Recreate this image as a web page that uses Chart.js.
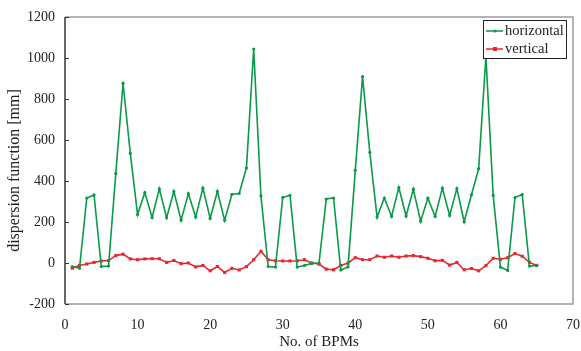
<!DOCTYPE html>
<html>
<head>
<meta charset="utf-8">
<script src="https://cdn.jsdelivr.net/npm/chart.js@4/dist/chart.umd.min.js"></script>
<style>
html,body{margin:0;padding:0;background:#fff;}
#wrap{width:581px;height:351px;position:relative;}
</style>
</head>
<body>
<div id="wrap"><canvas id="c" width="581" height="351"></canvas></div>
<script>
const bpmIndex = [1,2,3,4,5,6,7,8,9,10,11,12,13,14,15,16,17,18,19,20,21,22,23,24,25,26,27,28,29,30,31,32,33,34,35,36,37,38,39,40,41,42,43,44,45,46,47,48,49,50,51,52,53,54,55,56,57,58,59,60,61,62,63,64,65];
const horizontal = [-17,-25,317,332,-17,-15,437,877,535,236,344,222,362,221,349,209,339,224,365,218,349,208,335,339,463,1044,327,-17,-20,319,330,-20,-12,-2,0,312,317,-34,-19,452,909,540,224,317,227,368,229,360,204,316,227,365,232,363,201,332,460,1007,330,-20,-36,319,334,-15,-12];
const vertical = [-25,-12,-5,3,10,12,36,43,20,16,20,21,21,3,12,-3,0,-19,-12,-38,-17,-46,-26,-34,-18,16,57,16,11,10,10,11,16,0,-5,-30,-33,-12,0,26,16,16,34,28,34,28,34,36,31,23,11,13,-10,3,-33,-27,-38,-13,23,18,26,46,33,3,-12];
const seriesNames = ["horizontal","vertical"];
const xTicks = [0,10,20,30,40,50,60,70];
const yTicks = [-200,0,200,400,600,800,1000,1200];
const xTitle = "No. of BPMs";
const yTitle = "dispersion function [mm]";

const GREEN = '#0a9a48';
const RED = '#e8262e';
const FONT = '"Liberation Serif", "DejaVu Serif", serif';

const toPts = arr => arr.map((v,i)=>({x:bpmIndex[i], y:v}));

const frame = {
  id:'frame',
  afterDraw(chart){
    const {ctx, chartArea:a, scales} = chart;
    ctx.save();
    ctx.strokeStyle = '#9a9c9e';
    ctx.lineWidth = 1.5;
    ctx.beginPath();
    ctx.moveTo(a.left, a.top); ctx.lineTo(a.right, a.top); ctx.lineTo(a.right, a.bottom); ctx.lineTo(a.left, a.bottom);
    ctx.stroke();
    ctx.strokeStyle = '#333';
    ctx.beginPath();
    ctx.moveTo(a.left, a.top); ctx.lineTo(a.left, a.bottom);
    ctx.stroke();
    ctx.lineWidth = 1;
    yTicks.forEach(t=>{
      const py = Math.round(scales.y.getPixelForValue(t))+0.5;
      ctx.beginPath(); ctx.moveTo(a.left, py); ctx.lineTo(a.left+4, py); ctx.stroke();
    });
    const bx = 483, by = 20, bw = 83, bh = 38;
    ctx.fillStyle = '#fff';
    ctx.fillRect(bx, by, bw, bh);
    ctx.strokeStyle = '#222';
    ctx.lineWidth = 1;
    ctx.strokeRect(bx+0.5, by+0.5, bw, bh);
    ctx.font = '14.5px ' + FONT;
    ctx.textBaseline = 'middle';
    chart.data.datasets.forEach((ds, i)=>{
      const yy = by + 11 + i*18;
      ctx.strokeStyle = ds.borderColor; ctx.lineWidth = 1.5;
      ctx.beginPath(); ctx.moveTo(bx+3, yy); ctx.lineTo(bx+20, yy); ctx.stroke();
      ctx.fillStyle = ds.borderColor;
      if (i===1) ctx.fillRect(bx+10, yy-2, 4, 4); else { ctx.beginPath(); ctx.arc(bx+12, yy, 1.6, 0, Math.PI*2); ctx.fill(); }
      ctx.fillStyle = '#222';
      ctx.fillText(ds.label, bx+22, yy);
    });
    ctx.restore();
  }
};

new Chart(document.getElementById('c'), {
  type:'line',
  data:{
    datasets:[
      {label:seriesNames[0], data:toPts(horizontal), borderColor:GREEN, backgroundColor:GREEN, borderWidth:1.6, pointRadius:1.6, pointStyle:'circle', pointBorderWidth:0, tension:0},
      {label:seriesNames[1], data:toPts(vertical), borderColor:RED, backgroundColor:RED, borderWidth:1.6, pointRadius:2.2, pointStyle:'rect', pointBorderWidth:0, tension:0}
    ]
  },
  options:{
    responsive:false,
    animation:false,
    devicePixelRatio:1,
    layout:{padding:{left:0, right:8, top:17, bottom:0}},
    plugins:{legend:{display:false}, tooltip:{enabled:false}},
    scales:{
      x:{
        type:'linear', min:xTicks[0], max:xTicks[xTicks.length-1],
        afterBuildTicks(s){ s.ticks = xTicks.map(v=>({value:v})); },
        afterFit(s){ s.height = 47; s.paddingRight = 0; s.paddingLeft = 0; },
        grid:{display:false, drawTicks:false},
        border:{display:false},
        ticks:{padding:13, color:'#222', font:{family:FONT, size:14}, maxRotation:0, callback:v=>String(v)},
        title:{display:true, text:xTitle, color:'#222', font:{family:FONT, size:15}, padding:{top:5,bottom:0}}
      },
      y:{
        type:'linear', min:yTicks[0], max:yTicks[yTicks.length-1],
        afterBuildTicks(s){ s.ticks = yTicks.map(v=>({value:v})); },
        afterFit(s){ s.width = 65; s.paddingTop = 0; s.paddingBottom = 0; },
        grid:{display:false, drawTicks:false},
        border:{display:false},
        ticks:{padding:10, color:'#222', font:{family:FONT, size:14}, callback:v=>String(v)},
        title:{display:true, text:yTitle + '     ', color:'#222', font:{family:FONT, size:16}, padding:{top:5,bottom:4}}
      }
    }
  },
  plugins:[frame]
});
</script>
</body>
</html>
